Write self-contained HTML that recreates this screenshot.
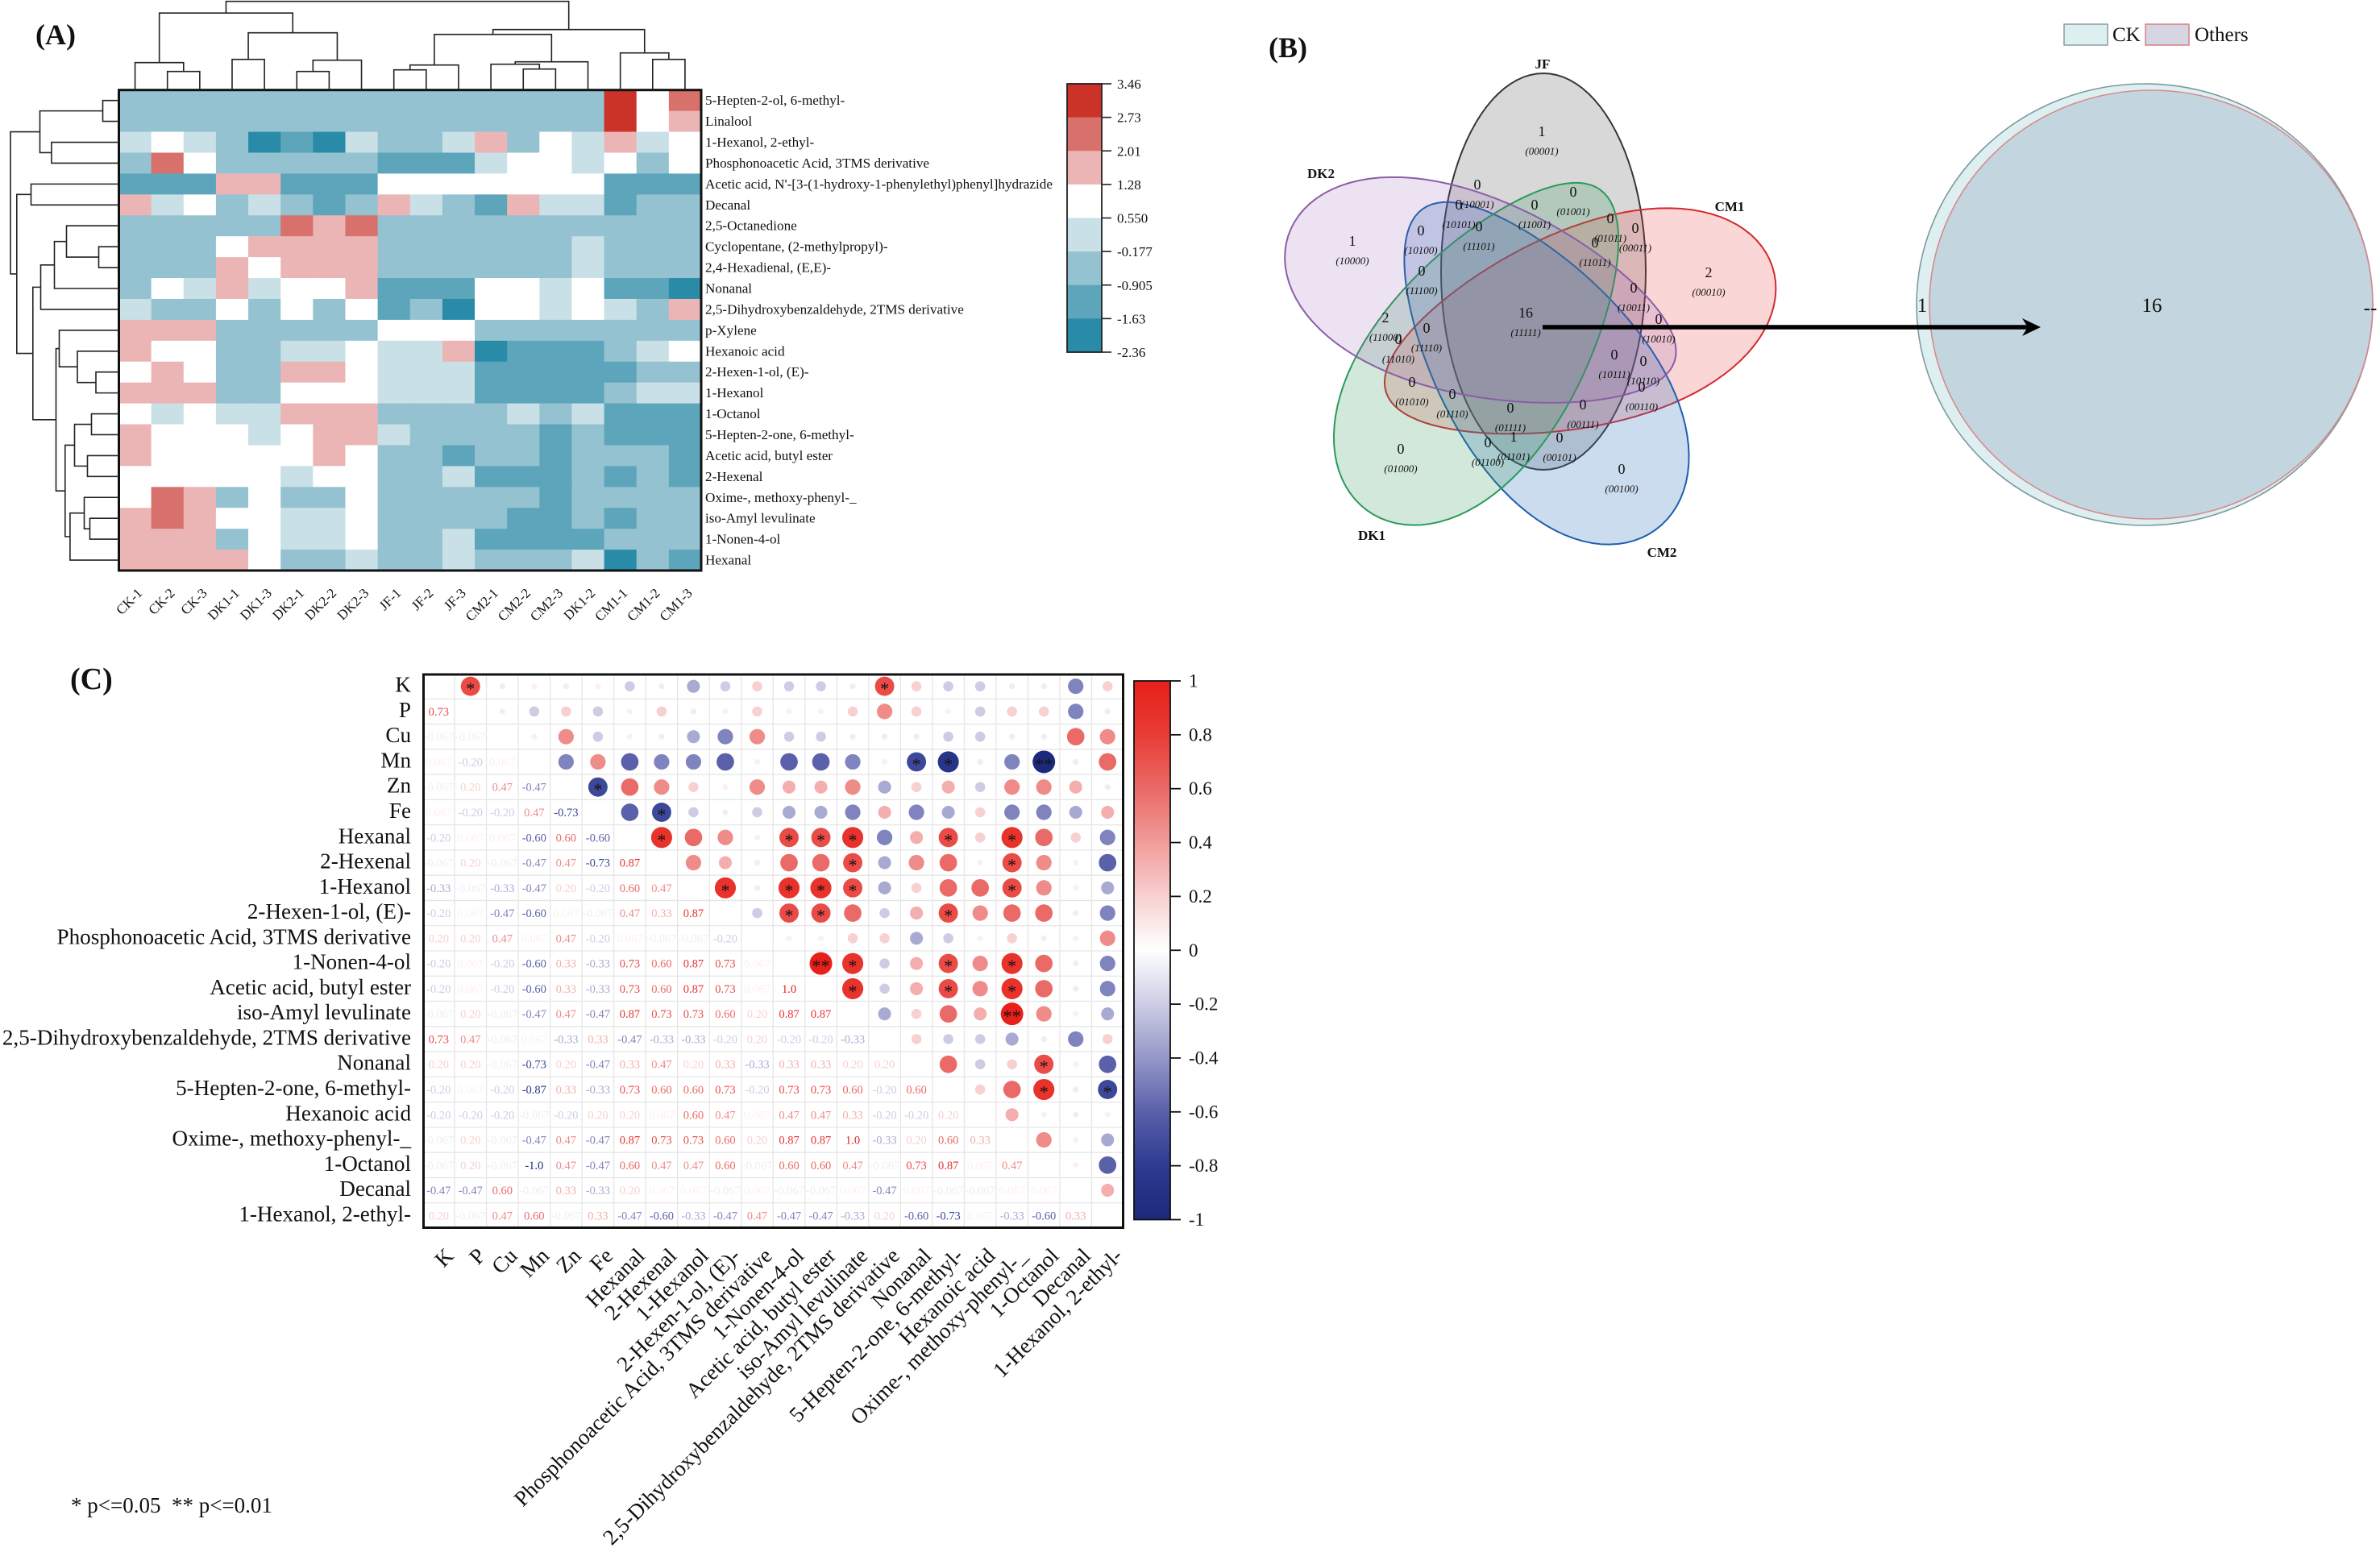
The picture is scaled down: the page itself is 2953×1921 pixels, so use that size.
<!DOCTYPE html>
<html lang="en">
<head>
<meta charset="utf-8">
<title>Volatile compound heatmap, Venn diagrams and correlation matrix</title>
<style>
html,body{margin:0;padding:0;background:#fff}
svg{display:block}
text{font-family:"Liberation Serif","Noto Serif CJK SC",serif;fill:#111}
</style>
</head>
<body>
<svg id="figure" xmlns="http://www.w3.org/2000/svg" width="2953" height="1921" viewBox="0 0 2953 1921">
  <rect x="0" y="0" width="2953" height="1921" fill="#fff"/>
  <text x="44" y="55" font-size="36" font-weight="bold">(A)</text>
  <text x="1574" y="71" font-size="36" font-weight="bold">(B)</text>
  <text x="87" y="855" font-size="38" font-weight="bold">(C)</text>
  <text x="88" y="1877" font-size="27" xml:space="preserve">* p&lt;=0.05  ** p&lt;=0.01</text>
  <g id="panelA"></g>
  <g id="panelB"></g>
  <g id="panelC"></g>
</svg>
<script>
/* ---------- Panel A data ---------- */
const heatColumns = ["CK-1","CK-2","CK-3","DK1-1","DK1-3","DK2-1","DK2-2","DK2-3","JF-1","JF-2","JF-3","CM2-1","CM2-2","CM2-3","DK1-2","CM1-1","CM1-2","CM1-3"];
const heatRows = ["5-Hepten-2-ol, 6-methyl-","Linalool","1-Hexanol, 2-ethyl-","Phosphonoacetic Acid, 3TMS derivative","Acetic acid, N'-[3-(1-hydroxy-1-phenylethyl)phenyl]hydrazide","Decanal","2,5-Octanedione","Cyclopentane, (2-methylpropyl)-","2,4-Hexadienal, (E,E)-","Nonanal","2,5-Dihydroxybenzaldehyde, 2TMS derivative","p-Xylene","Hexanoic acid","2-Hexen-1-ol, (E)-","1-Hexanol","1-Octanol","5-Hepten-2-one, 6-methyl-","Acetic acid, butyl ester","2-Hexenal","Oxime-, methoxy-phenyl-_","iso-Amyl levulinate","1-Nonen-4-ol","Hexanal"];
const heatValues = [
[-.54,-.54,-.54,-.54,-.54,-.54,-.54,-.54,-.54,-.54,-.54,-.54,-.54,-.54,-.54,3.1,.92,2.37],
[-.54,-.54,-.54,-.54,-.54,-.54,-.54,-.54,-.54,-.54,-.54,-.54,-.54,-.54,-.54,3.1,.92,1.65],
[.19,.92,.19,-.54,-2,-1.27,-2,.19,-.54,-.54,.19,1.65,-.54,.92,.19,1.65,.19,.92],
[-.54,2.37,.92,-.54,-.54,-.54,-.54,-.54,-1.27,-1.27,-1.27,.19,.92,.92,.19,.92,-.54,.92],
[-1.27,-1.27,-1.27,1.65,1.65,-1.27,-1.27,-1.27,.92,.92,.92,.92,.92,.92,.92,-1.27,-1.27,-1.27],
[1.65,.19,.92,-.54,.19,-.54,-1.27,-.54,1.65,.19,-.54,-1.27,1.65,.19,.19,-1.27,-.54,-.54],
[-.54,-.54,-.54,-.54,-.54,2.37,1.65,2.37,-.54,-.54,-.54,-.54,-.54,-.54,-.54,-.54,-.54,-.54],
[-.54,-.54,-.54,.92,1.65,1.65,1.65,1.65,-.54,-.54,-.54,-.54,-.54,-.54,.19,-.54,-.54,-.54],
[-.54,-.54,-.54,1.65,.92,1.65,1.65,1.65,-.54,-.54,-.54,-.54,-.54,-.54,.19,-.54,-.54,-.54],
[-.54,.92,.19,1.65,.19,.92,.92,1.65,-1.27,-1.27,-1.27,.92,.92,.19,.92,-1.27,-1.27,-2],
[.19,-.54,-.54,.92,-.54,.92,-.54,.92,-1.27,-.54,-2,.92,.92,.19,.92,.19,-.54,1.65],
[1.65,1.65,1.65,-.54,-.54,-.54,-.54,-.54,.92,.92,.92,-.54,-.54,-.54,-.54,-.54,-.54,-.54],
[1.65,.92,.92,-.54,-.54,.19,.19,.92,.19,.19,1.65,-2,-1.27,-1.27,-1.27,-.54,.19,.92],
[.92,1.65,.92,-.54,-.54,1.65,1.65,.92,.19,.19,.19,-1.27,-1.27,-1.27,-1.27,-1.27,-.54,-.54],
[1.65,1.65,1.65,-.54,-.54,.92,.92,.92,.19,.19,.19,-1.27,-1.27,-1.27,-1.27,-.54,.19,.19],
[.92,.19,.92,.19,.19,1.65,1.65,1.65,-.54,-.54,-.54,-.54,.19,-.54,.19,-1.27,-1.27,-1.27],
[1.65,.92,.92,.92,.19,.92,1.65,1.65,.19,-.54,-.54,-.54,-.54,-1.27,-.54,-1.27,-1.27,-1.27],
[1.65,.92,.92,.92,.92,.92,1.65,.92,-.54,-.54,-1.27,-.54,-.54,-1.27,-.54,-.54,-.54,-1.27],
[.92,.92,.92,.92,.92,.19,.92,.92,-.54,-.54,.19,-1.27,-1.27,-1.27,-.54,-1.27,-.54,-1.27],
[.92,2.37,1.65,-.54,.92,-.54,-.54,.92,-.54,-.54,-.54,-.54,-.54,-1.27,-.54,-.54,-.54,-.54],
[1.65,2.37,1.65,.92,.92,.19,.19,.92,-.54,-.54,-.54,-.54,-1.27,-1.27,-.54,-1.27,-.54,-.54],
[1.65,1.65,1.65,-.54,.92,.19,.19,.92,-.54,-.54,.19,-1.27,-1.27,-1.27,-1.27,-.54,-.54,-.54],
[1.65,1.65,1.65,1.65,.92,-.54,-.54,.19,-.54,-.54,.19,-.54,-.54,-.54,.19,-2,-.54,-1.27]
];
const heatTicks = [3.46,2.73,2.01,1.28,0.55,-0.177,-0.905,-1.63,-2.36];
const heatTickLabels = ["3.46","2.73","2.01","1.28","0.550","-0.177","-0.905","-1.63","-2.36"];
const heatBinColors = ["#cb3328","#d8706c","#ecb5b5","#ffffff","#c8e0e6","#94c2d0","#5da5ba","#2a8ba8"];
/* dendrograms: [left, right, merge height]; numbers are leaf indices */
const columnTree = [[[0,[1,2,23],34],[[3,4,38],[[5,6,23],7,37],71],95.5],[[[[8,9,25],10,31],[[11,[12,13,26],32],14,35],69],[15,[16,17,38],46],75],110];
const rowTree = [[[0,1,20],[2,3,83.6],98],[[4,5,109],[[[[6,[7,8,25],65],9,80],10,97],[[11,[12,[13,14,28.5],51.5],74],[[[15,16,34],[17,18,39],55],[[19,[20,21,36],43],22,60.6],66.7],78],106.7],126.7],134.5];

/* ---------- Panel B data ---------- */
const vennSetNames = ["JF","CM1","CM2","DK1","DK2"];
const vennCodes = ["00001","10001","01001","10101","11001","01011","00011","10100","11101","11011","10000","00010","11100","10011","11111","11000","11110","10010","11010","10111","10110","01010","00110","01110","00111","01111","01101","01100","00101","01000","00100"];
const vennCounts = [1,0,0,0,0,0,0,0,0,0,1,2,0,0,16,2,0,0,0,0,0,0,0,0,0,0,1,0,0,0,0];
const zoomSetNames = ["CK","Others"];
const zoomCounts = ["1","16","--"];

/* ---------- Panel C data ---------- */
const corrLabels = ["K","P","Cu","Mn","Zn","Fe","Hexanal","2-Hexenal","1-Hexanol","2-Hexen-1-ol, (E)-","Phosphonoacetic Acid, 3TMS derivative","1-Nonen-4-ol","Acetic acid, butyl ester","iso-Amyl levulinate","2,5-Dihydroxybenzaldehyde, 2TMS derivative","Nonanal","5-Hepten-2-one, 6-methyl-","Hexanoic acid","Oxime-, methoxy-phenyl-_","1-Octanol","Decanal","1-Hexanol, 2-ethyl-"];
const corrLower = [
[],
[.73],
[-.067,-.067],
[.067,-.20,.067],
[-.067,.20,.47,-.47],
[.067,-.20,-.20,.47,-.73],
[-.20,.067,.067,-.60,.60,-.60],
[-.067,.20,-.067,-.47,.47,-.73,.87],
[-.33,-.067,-.33,-.47,.20,-.20,.60,.47],
[-.20,.067,-.47,-.60,.067,-.067,.47,.33,.87],
[.20,.20,.47,.067,.47,-.20,.067,-.067,-.067,-.20],
[-.20,.067,-.20,-.60,.33,-.33,.73,.60,.87,.73,.067],
[-.20,.067,-.20,-.60,.33,-.33,.73,.60,.87,.73,.067,1.0],
[-.067,.20,-.067,-.47,.47,-.47,.87,.73,.73,.60,.20,.87,.87],
[.73,.47,-.067,.067,-.33,.33,-.47,-.33,-.33,-.20,.20,-.20,-.20,-.33],
[.20,.20,-.067,-.73,.20,-.47,.33,.47,.20,.33,-.33,.33,.33,.20,.20],
[-.20,.067,-.20,-.87,.33,-.33,.73,.60,.60,.73,-.20,.73,.73,.60,-.20,.60],
[-.20,-.20,-.20,-.067,-.20,.20,.20,.067,.60,.47,.067,.47,.47,.33,-.20,-.20,.20],
[-.067,.20,-.067,-.47,.47,-.47,.87,.73,.73,.60,.20,.87,.87,1.0,-.33,.20,.60,.33],
[-.067,.20,-.067,-1.0,.47,-.47,.60,.47,.47,.60,-.067,.60,.60,.47,-.067,.73,.87,.067,.47],
[-.47,-.47,.60,-.067,.33,-.33,.20,.067,.067,-.067,.067,-.067,-.067,.067,-.47,.067,-.067,-.067,.067,.067],
[.20,-.067,.47,.60,-.067,.33,-.47,-.60,-.33,-.47,.47,-.47,-.47,-.33,.20,-.60,-.73,.067,-.33,-.60,.33]
];
const corrTicks = [1,0.8,0.6,0.4,0.2,0,-0.2,-0.4,-0.6,-0.8,-1];
const corrScaleDomain = [-1,-0.8,-0.6,-0.4,-0.2,0,0.2,0.4,0.6,0.8,1];
const corrScaleColors = ["#1b2a7a","#2c3b90","#5a60aa","#9497c8","#cccde5","#ffffff","#f8d0d0","#f19c9a","#ea6a67","#e83c36","#e7201a"];

/* ---------- helpers ---------- */
const NS = "http://www.w3.org/2000/svg";
function make(tag, parent, attrs, content) {
  const el = document.createElementNS(NS, tag);
  for (const k in attrs) el.setAttribute(k, attrs[k]);
  if (content !== undefined) el.textContent = content;
  parent.appendChild(el);
  return el;
}
function slug(s) {
  return String(s).toLowerCase().replace(/[^a-z0-9]+/g, "-").replace(/^-|-$/g, "");
}

/* ---------- Panel A: heatmap ---------- */
(function () {
  const root = document.getElementById("panelA");
  const plot = { left: 147.5, right: 870, top: 111.7, bottom: 708 };
  const colW = (plot.right - plot.left) / heatColumns.length;
  const rowH = (plot.bottom - plot.top) / heatRows.length;
  const xCol = i => plot.left + i * colW;
  const yRow = i => plot.top + i * rowH;
  function heatColor(v) {
    for (let b = 0; b < heatBinColors.length; b++) {
      if (v >= heatTicks[b + 1]) return heatBinColors[b];
    }
    return heatBinColors[heatBinColors.length - 1];
  }
  heatValues.forEach((row, r) => row.forEach((v, c) => {
    const cell = make("rect", root, { x: xCol(c), y: yRow(r), width: colW + 0.4, height: rowH + 0.4, fill: heatColor(v) });
    
    
  }));
  const border = make("rect", root, { x: plot.left, y: plot.top, width: plot.right - plot.left, height: plot.bottom - plot.top, fill: "none", stroke: "#111", "stroke-width": 3 });
  
  
  heatRows.forEach((name, r) => {
    const t = make("text", root, { x: 875, y: yRow(r + 0.5) + 5.5, "font-size": 17.15 }, name);
    
    
  });
  heatColumns.forEach((name, c) => {
    const x = xCol(c + 0.5) + 10, y = 737;
    const t = make("text", root, { x: x, y: y, "font-size": 17, "text-anchor": "end", transform: "rotate(-45 " + x + " " + y + ")" }, name);
    
    
  });
  /* dendrograms */
  function layoutTree(node, leafPos, draw) {
    if (typeof node === "number") return { pos: leafPos(node), h: 0 };
    const a = layoutTree(node[0], leafPos, draw);
    const b = layoutTree(node[1], leafPos, draw);
    draw(a, b, node[2]);
    return { pos: (a.pos + b.pos) / 2, h: node[2] };
  }
  let topPath = "";
  layoutTree(columnTree, i => xCol(i + 0.5), (a, b, h) => {
    const base = plot.top;
    topPath += "M" + a.pos + " " + (base - a.h) + "V" + (base - h) + "H" + b.pos + "V" + (base - b.h);
  });
  const topDendro = make("path", root, { d: topPath, fill: "none", stroke: "#222", "stroke-width": 1.6 });
  
  
  let leftPath = "";
  layoutTree(rowTree, i => yRow(i + 0.5), (a, b, h) => {
    const base = plot.left;
    leftPath += "M" + (base - a.h) + " " + a.pos + "H" + (base - h) + "V" + b.pos + "H" + (base - b.h);
  });
  const leftDendro = make("path", root, { d: leftPath, fill: "none", stroke: "#222", "stroke-width": 1.6 });
  
  
  /* colour legend */
  const bar = { left: 1324, right: 1367, top: 104, bottom: 437 };
  const yLegend = i => bar.top + i * (bar.bottom - bar.top) / (heatTicks.length - 1);
  heatBinColors.forEach((col, i) => {
    const s = make("rect", root, { x: bar.left, y: yLegend(i), width: bar.right - bar.left, height: yLegend(i + 1) - yLegend(i) + 0.3, fill: col });
    
    
  });
  const legendBorder = make("rect", root, { x: bar.left, y: bar.top, width: bar.right - bar.left, height: bar.bottom - bar.top, fill: "none", stroke: "#222", "stroke-width": 1.8 });
  
  
  heatTickLabels.forEach((lab, i) => {
    const tick = make("line", root, { x1: bar.right, x2: bar.right + 12, y1: yLegend(i), y2: yLegend(i), stroke: "#222", "stroke-width": 1.6 });
    
    
    const t = make("text", root, { x: 1386, y: yLegend(i) + 6, "font-size": 17 }, lab);
    
    
  });
})();

/* ---------- Panel B: Venn diagrams ---------- */
(function () {
  const root = document.getElementById("panelB");
  const petalLayout = {
    JF:  { cx: 1915, cy: 337, rx: 127, ry: 246, egg: 0, rot: 0,   stroke: "#33363a", fill: "rgba(60,60,60,0.20)", lx: 1914, ly: 85 },
    CM1: { cx: 1959.5, cy: 409, rx: 122, ry: 252, egg: 0.2, rot: 72,  stroke: "#d22a2e", fill: "rgba(230,70,70,0.22)", lx: 2146, ly: 262 },
    CM2: { cx: 1909.5, cy: 458.5, rx: 125, ry: 246, egg: 0.2, rot: 144, stroke: "#1c5fae", fill: "rgba(50,115,190,0.25)", lx: 2062, ly: 691 },
    DK1: { cx: 1841, cy: 434.5, rx: 125, ry: 246, egg: 0.2, rot: 216, stroke: "#2a9a5a", fill: "rgba(50,150,90,0.22)", lx: 1702, ly: 670 },
    DK2: { cx: 1838, cy: 370.5, rx: 122, ry: 252, egg: 0.2, rot: 288, stroke: "#8a5ea8", fill: "rgba(140,85,170,0.17)", lx: 1639, ly: 221 }
  };
  function petalPath(p) {
    let d = "";
    const steps = 96;
    for (let i = 0; i < steps; i++) {
      const th = i / steps * 2 * Math.PI;
      const x = p.cx + p.rx * Math.sin(th) * (1 + p.egg * Math.cos(th));
      const y = p.cy - p.ry * Math.cos(th);
      d += (i ? "L" : "M") + x.toFixed(2) + " " + y.toFixed(2);
    }
    return d + "Z";
  }
  vennSetNames.forEach(name => {
    const e = petalLayout[name];
    const el = make("path", root, { d: petalPath(e), fill: e.fill, stroke: e.stroke, "stroke-width": 2, "stroke-linejoin": "round", transform: "rotate(" + e.rot + " " + e.cx + " " + e.cy + ")" });
    
    
  });
  vennSetNames.forEach(name => {
    const e = petalLayout[name];
    const t = make("text", root, { x: e.lx, y: e.ly, "font-size": 17, "font-weight": "bold", "text-anchor": "middle" }, name);
    
    
  });
  const regionAnchor = {"00001":[1913,163],"10001":[1833,229],"01001":[1952,238],"10101":[1810,254],"11001":[1904,254],"01011":[1998,271],"00011":[2029,283],"10100":[1763,286],"11101":[1835,281],"11011":[1979,301],"10000":[1678,299],"00010":[2120,338],"11100":[1764,336],"10011":[2027,357],"11111":[1893,388],"11000":[1719,394],"11110":[1770,407],"10010":[2058,396],"11010":[1735,421],"10111":[2003,440],"10110":[2039,448],"01010":[1752,474],"00110":[2037,480],"01110":[1802,489],"00111":[1964,502],"01111":[1874,506],"01101":[1878,542],"01100":[1846,549],"00101":[1935,543],"01000":[1738,557],"00100":[2012,582]};
  vennCodes.forEach((code, i) => {
    const a = regionAnchor[code];
    const n = make("text", root, { x: a[0], y: a[1] + 6, "font-size": 18, "text-anchor": "middle" }, vennCounts[i]);
    
    
    const c = make("text", root, { x: a[0], y: a[1] + 29, "font-size": 13, "font-style": "italic", "text-anchor": "middle" }, "(" + code + ")");
    
    
  });
  /* zoomed two-set Venn */
  const ck = make("ellipse", root, { cx: 2661, cy: 378, rx: 283, ry: 274, fill: "#ddeff1", stroke: "#7d9a9e", "stroke-width": 1.6 });
  
  
  const others = make("ellipse", root, { cx: 2669, cy: 378, rx: 275, ry: 266, fill: "rgba(169,189,205,0.5)", stroke: "#d88a8f", "stroke-width": 1.6 });
  
  
  const zoomX = [2385, 2670, 2941], zoomY = [387, 387, 390];
  zoomCounts.forEach((v, i) => {
    const t = make("text", root, { x: zoomX[i], y: zoomY[i], "font-size": 25, "text-anchor": "middle" }, v);
    
    
  });
  const swatchFill = ["#deeff2", "#d6d6e2"], swatchStroke = ["#7d9a9e", "#d8787f"], swatchX = [2561, 2662], labelX = [2621, 2723];
  zoomSetNames.forEach((name, i) => {
    const s = make("rect", root, { x: swatchX[i], y: 30, width: 54, height: 26, fill: swatchFill[i], stroke: swatchStroke[i], "stroke-width": 1.4 });
    
    
    const t = make("text", root, { x: labelX[i], y: 51, "font-size": 25 }, name);
    
    
  });
  const shaft = make("line", root, { x1: 1914, x2: 2522, y1: 406, y2: 406, stroke: "#000", "stroke-width": 5.5 });
  
  
  const head = make("polygon", root, { points: "2532,406 2509,395 2516,406 2509,417", fill: "#000" });
  
  
})();

/* ---------- Panel C: correlation matrix ---------- */
(function () {
  const root = document.getElementById("panelC");
  const plot = { left: 524.5, right: 1394, top: 836, bottom: 1524 };
  const n = corrLabels.length;
  const colW = (plot.right - plot.left) / n;
  const rowH = (plot.bottom - plot.top) / n;
  const xCol = i => plot.left + i * colW;
  const yRow = i => plot.top + i * rowH;
  const maxRadius = 14;
  const rScale = v => maxRadius * Math.sqrt(Math.abs(v));
  function hexToRgb(h) {
    return [parseInt(h.slice(1, 3), 16), parseInt(h.slice(3, 5), 16), parseInt(h.slice(5, 7), 16)];
  }
  function colorScale(v) {
    const c = Math.max(-1, Math.min(1, v));
    for (let i = 0; i < corrScaleDomain.length - 1; i++) {
      if (c <= corrScaleDomain[i + 1]) {
        const t = (c - corrScaleDomain[i]) / (corrScaleDomain[i + 1] - corrScaleDomain[i]);
        const a = hexToRgb(corrScaleColors[i]), b = hexToRgb(corrScaleColors[i + 1]);
        return "rgb(" + a.map((x, k) => Math.round(x + (b[k] - x) * t)).join(",") + ")";
      }
    }
    return corrScaleColors[corrScaleColors.length - 1];
  }
  function fmt(v) {
    const a = Math.abs(v);
    if (a >= 0.995) return v.toFixed(1);
    if (a < 0.1) return v.toFixed(3);
    return v.toFixed(2);
  }
  function stars(v) {
    const a = Math.abs(v);
    if (a >= 0.995) return "**";
    if (a >= 0.72) return "*";
    return "";
  }
  /* grid */
  for (let i = 1; i < n; i++) {
    const gv = make("line", root, { x1: xCol(i), x2: xCol(i), y1: plot.top, y2: plot.bottom, stroke: "#e6e6e6", "stroke-width": 1.3 });
    
    
    const gh = make("line", root, { x1: plot.left, x2: plot.right, y1: yRow(i), y2: yRow(i), stroke: "#e6e6e6", "stroke-width": 1.3 });
    
    
  }
  /* lower triangle: values; upper triangle: dots */
  corrLower.forEach((row, r) => row.forEach((v, c) => {
    const t = make("text", root, { x: xCol(c + 0.5), y: yRow(r + 0.5) + 5, "font-size": 14.5, "text-anchor": "middle", style: "fill:" + colorScale(v) }, fmt(v));
    
    
    const dot = make("circle", root, { cx: xCol(r + 0.5), cy: yRow(c + 0.5), r: rScale(v), fill: colorScale(v) });
    
    
    const s = stars(v);
    if (s) {
      const st = make("text", root, { x: xCol(r + 0.5), y: yRow(c + 0.5) + 10.5, "font-size": 22, "text-anchor": "middle", style: "fill:#1a1010" }, s);
      
      
    }
  }));
  const border = make("rect", root, { x: plot.left + 1, y: plot.top + 1, width: plot.right - plot.left - 1.5, height: plot.bottom - plot.top - 1.5, fill: "none", stroke: "#111", "stroke-width": 3 });
  
  
  corrLabels.forEach((name, i) => {
    const yl = make("text", root, { x: 510, y: yRow(i + 0.5) + 7, "font-size": 27.1, "text-anchor": "end" }, name);
    
    
    const x = xCol(i + 0.5) + 20, y = 1560;
    const xl = make("text", root, { x: x, y: y, "font-size": 27.1, "text-anchor": "end", transform: "rotate(-45 " + x + " " + y + ")" }, name);
    
    
  });
  /* colour bar */
  const bar = { left: 1407, right: 1452, top: 845, bottom: 1513.5 };
  const yBar = v => bar.top + (1 - v) / 2 * (bar.bottom - bar.top);
  const svg = document.getElementById("figure");
  const defs = make("defs", svg, {});
  const grad = make("linearGradient", defs, { id: "corrGradient", x1: 0, x2: 0, y1: 0, y2: 1 });
  corrScaleDomain.slice().reverse().forEach(v => {
    make("stop", grad, { offset: ((1 - v) / 2), "stop-color": colorScale(v) });
  });
  const cb = make("rect", root, { x: bar.left, y: bar.top, width: bar.right - bar.left, height: bar.bottom - bar.top, fill: "url(#corrGradient)", stroke: "#111", "stroke-width": 1.8 });
  
  
  corrTicks.forEach(v => {
    const tick = make("line", root, { x1: bar.right, x2: bar.right + 13, y1: yBar(v), y2: yBar(v), stroke: "#111", "stroke-width": 1.8 });
    
    
    const t = make("text", root, { x: 1475, y: yBar(v) + 7.5, "font-size": 23 }, String(v));
    
    
  });
})();
</script>
</body>
</html>
